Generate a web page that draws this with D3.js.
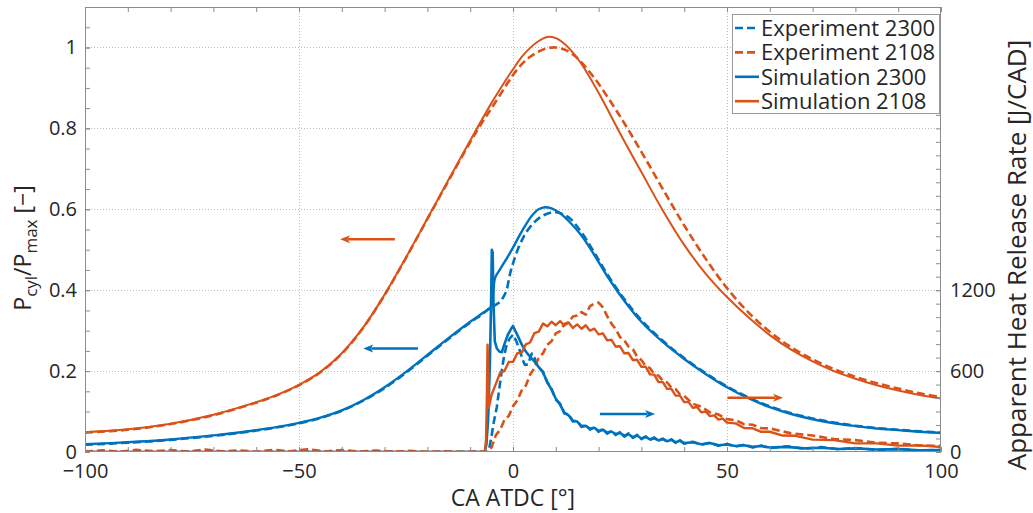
<!DOCTYPE html>
<html>
<head>
<meta charset="utf-8">
<script src="https://cdn.jsdelivr.net/npm/d3@7"></script>
<style>
  html, body { margin: 0; padding: 0; background: #fff; }
  svg { display: block; font-family: "Open Sans", sans-serif; }
</style>
</head>
<body>
<svg id="chart" width="1033" height="513"></svg>
<script>
// ---- Tick values ----------------------------------------------------------
const xMajorTicks = [-100, -50, 0, 50, 100];
const yLeftMajorTicks = [0, 0.2, 0.4, 0.6, 0.8, 1];
const yRightMajorTicks = [0, 600, 1200];

// ---- Normalised cylinder pressure, [crank angle ATDC, P/Pmax] -------------
const pressureExp2300 = [[-100,0.018],[-90,0.023],[-80,0.03],[-70,0.04],[-65,0.046],[-60,0.053],[-55,0.061],[-50,0.071],[-45,0.084],[-40,0.102],[-35,0.127],[-30,0.158],[-25,0.196],[-20,0.238],[-15,0.28],[-10,0.32],[-7,0.342],[-5.4,0.356],[-4,0.364],[-3,0.372],[-2,0.388],[-1.5,0.4],[-0.7,0.44],[0,0.466],[1.2,0.503],[2.3,0.528],[3.2,0.545],[5,0.568],[6.3,0.58],[8,0.589],[10,0.593],[13,0.58],[16,0.543],[19,0.493],[22,0.44],[26,0.378],[30,0.326],[35,0.275],[40,0.232],[45,0.195],[50,0.162],[55,0.135],[60,0.113],[65,0.096],[70,0.083],[75,0.073],[80,0.065],[85,0.059],[90,0.055],[95,0.051],[100,0.048]];
const pressureExp2108 = [[-100,0.048],[-90,0.055],[-80,0.069],[-70,0.091],[-60,0.122],[-55,0.141],[-50,0.165],[-45,0.197],[-40,0.243],[-35,0.307],[-30,0.388],[-25,0.48],[-20,0.576],[-15,0.672],[-10,0.766],[-7,0.818],[-5,0.85],[-2,0.9],[0,0.932],[2,0.958],[4,0.977],[6,0.99],[8,0.998],[10,1.0],[12,0.995],[14,0.983],[16,0.963],[18,0.938],[20,0.91],[25,0.83],[30,0.742],[35,0.65],[40,0.56],[45,0.478],[50,0.405],[55,0.345],[60,0.297],[65,0.259],[70,0.229],[75,0.205],[80,0.186],[85,0.17],[90,0.157],[95,0.145],[100,0.135]];
const pressureSim2300 = [[-100,0.019],[-90,0.024],[-80,0.031],[-70,0.041],[-65,0.047],[-60,0.054],[-55,0.062],[-50,0.072],[-45,0.085],[-40,0.103],[-35,0.128],[-30,0.16],[-25,0.198],[-20,0.24],[-15,0.282],[-10,0.322],[-7,0.344],[-5.2,0.358],[-4.6,0.395],[-4.2,0.43],[-3,0.452],[-1.5,0.478],[0,0.505],[1.5,0.535],[3,0.562],[4.5,0.585],[6,0.6],[7.5,0.605],[9,0.602],[11,0.59],[13,0.571],[16,0.535],[19,0.487],[22,0.435],[26,0.374],[30,0.322],[35,0.272],[40,0.23],[45,0.193],[50,0.16],[55,0.133],[60,0.111],[65,0.094],[70,0.081],[75,0.071],[80,0.064],[85,0.058],[90,0.054],[95,0.05],[100,0.047]];
const pressureSim2108 = [[-100,0.049],[-90,0.056],[-80,0.07],[-70,0.092],[-60,0.123],[-55,0.142],[-50,0.166],[-45,0.198],[-40,0.244],[-35,0.308],[-30,0.389],[-25,0.481],[-20,0.577],[-15,0.674],[-10,0.77],[-5,0.863],[-2,0.914],[0,0.946],[2,0.976],[4,0.999],[6,1.016],[8,1.026],[10,1.023],[12,1.009],[14,0.987],[16,0.959],[20,0.888],[25,0.788],[30,0.692],[35,0.597],[40,0.512],[45,0.441],[50,0.383],[55,0.333],[60,0.289],[65,0.253],[70,0.224],[75,0.2],[80,0.181],[85,0.165],[90,0.152],[95,0.141],[100,0.132]];

// ---- Apparent heat release rate, [crank angle ATDC, J/CAD] ----------------
const hrrExp2300 = [[-100,2],[-90,6],[-80,1],[-70,5],[-60,0],[-50,4],[-40,1],[-30,3],[-20,0],[-10,2],[-5.7,0],[-5,120],[-4.5,220],[-3.8,330],[-3.2,470],[-2.7,585],[-2.2,690],[-1.6,780],[-0.8,840],[0,870],[0.8,820],[1.6,750],[2.3,680],[2.8,645],[3.5,650],[4.4,730],[5,700],[5.5,660],[6,628],[7,596],[8,516],[9,470],[10,388],[11,358],[12,285],[13,278],[14,226],[15,232],[16,186],[17,200],[18,166],[19,186],[20,150],[21,172],[22,136],[23,158],[24,126],[25,148],[26,114],[27,138],[28,104],[29,128],[30,96],[31,116],[32,88],[33,108],[34,82],[35,100],[36,76],[37,94],[38,68],[39,88],[40,62],[42,76],[44,54],[46,70],[48,46],[50,60],[52,40],[54,54],[56,34],[58,48],[60,30],[64,42],[68,24],[72,36],[76,20],[80,30],[85,15],[90,24],[95,10],[100,16]];
const hrrExp2108 = [[-100,4],[-96,12],[-92,2],[-88,16],[-84,6],[-80,14],[-76,3],[-72,18],[-68,5],[-64,12],[-60,2],[-56,16],[-52,6],[-48,20],[-44,4],[-40,14],[-36,3],[-32,10],[-28,2],[-24,8],[-20,1],[-16,5],[-12,0],[-8,3],[-6,0],[-5,35],[-4,125],[-3,165],[-2,238],[-1,268],[0,340],[1,382],[2,455],[3,492],[4,575],[5,622],[6,700],[7,732],[8,795],[9,822],[10,880],[11,897],[12,950],[13,962],[14,1005],[15,1012],[16,1038],[17,1018],[18,1082],[19,1100],[20,1108],[21,1072],[22,1008],[23,952],[24,912],[25,852],[26,828],[27,782],[28,762],[29,708],[30,682],[31,638],[32,622],[33,578],[34,566],[35,528],[36,516],[37,478],[38,466],[39,428],[40,416],[42,358],[44,336],[46,294],[48,278],[50,244],[52,236],[54,206],[56,202],[58,176],[60,175],[65,138],[70,122],[75,96],[80,88],[85,68],[90,64],[95,48],[100,45]];
const hrrSim2300 = [[-100,0],[-6.6,0],[-6.2,60],[-5.8,250],[-5.4,650],[-5.1,1150],[-4.95,1500],[-4.75,1480],[-4.55,1100],[-4.25,820],[-3.8,770],[-3.2,745],[-2.6,740],[-2,800],[-1.2,870],[-0.5,910],[0,935],[0.5,900],[1,870],[2,800],[3,745],[4,705],[5,672],[6,630],[7,590],[8,520],[9,462],[10,395],[11,352],[12,292],[13,272],[14,232],[15,226],[16,192],[17,194],[18,172],[19,180],[20,156],[21,166],[22,142],[23,152],[24,132],[25,142],[26,120],[27,132],[28,110],[29,122],[30,100],[31,112],[32,94],[33,102],[34,86],[35,96],[36,80],[37,90],[38,72],[39,84],[40,66],[42,72],[44,58],[46,66],[48,50],[50,56],[52,44],[54,50],[56,38],[58,44],[60,33],[64,38],[68,27],[72,32],[76,22],[80,27],[85,18],[90,21],[95,13],[100,14]];
const hrrSim2108 = [[-100,0],[-6.6,0],[-6.3,90],[-6.1,420],[-5.95,795],[-5.8,640],[-5.65,330],[-5,425],[-4,505],[-3,588],[-2,600],[-1,668],[0,668],[1,733],[2,735],[3,798],[4,812],[5,882],[6,892],[7,952],[8,932],[9,966],[10,940],[11,970],[12,938],[13,960],[14,920],[15,946],[16,914],[17,940],[18,900],[19,915],[20,872],[21,880],[22,828],[23,832],[24,782],[25,784],[26,732],[27,734],[28,682],[29,684],[30,632],[31,632],[32,576],[33,574],[34,518],[35,518],[36,468],[37,468],[38,418],[39,418],[40,370],[41,372],[42,328],[43,334],[44,294],[45,300],[46,266],[47,272],[48,240],[49,248],[50,218],[52,212],[54,178],[56,176],[58,150],[60,150],[63,122],[66,120],[70,92],[75,88],[80,64],[85,64],[90,47],[95,49],[100,37]];

// ---- Layout and styling ---------------------------------------------------
const plot = { left: 85, right: 941, top: 7, bottom: 452 };
const BLUE = "#0072BD", ORANGE = "#D95319";
const AXIS_GREY = "#8c8c8c", TEXT = "#262626";
const TICK_FONT = 20, LABEL_FONT = 23, RIGHT_LABEL_FONT = 26, LEGEND_FONT = 22;

const svg = d3.select("#chart");

const x = d3.scaleLinear().domain([-100, 100]).range([plot.left, plot.right]);
const y = d3.scaleLinear().domain([0, 1.1]).range([plot.bottom, plot.top]);
const yR = d3.scaleLinear().domain([0, 3300]).range([plot.bottom, plot.top]);

// clip lines to the axes box
svg.append("defs").append("clipPath").attr("id", "plotClip")
  .append("rect")
  .attr("x", plot.left).attr("y", plot.top)
  .attr("width", plot.right - plot.left).attr("height", plot.bottom - plot.top);

// ---- Grid -----------------------------------------------------------------
const grid = svg.append("g").attr("stroke", "#bdbdbd").attr("stroke-width", 1)
  .attr("stroke-dasharray", "1,2");
grid.selectAll("line.gx").data(xMajorTicks.filter(d => d > -100 && d < 100))
  .join("line").attr("class", "gx")
  .attr("x1", d => x(d) + 0.5).attr("x2", d => x(d) + 0.5)
  .attr("y1", plot.top).attr("y2", plot.bottom);
grid.selectAll("line.gy").data(yLeftMajorTicks.filter(d => d > 0))
  .join("line").attr("class", "gy")
  .attr("x1", plot.left).attr("x2", plot.right)
  .attr("y1", d => Math.round(y(d)) + 0.5).attr("y2", d => Math.round(y(d)) + 0.5);

// ---- Curves ---------------------------------------------------------------
const curves = svg.append("g").attr("clip-path", "url(#plotClip)").attr("fill", "none")
  .attr("stroke-linejoin", "round");

const pLine = d3.line().x(d => x(d[0])).y(d => y(d[1])).curve(d3.curveCatmullRom.alpha(0.5));
const hLine = d3.line().x(d => x(d[0])).y(d => yR(d[1]));

const series = [
  { data: pressureExp2300, gen: pLine, color: BLUE,   dash: "8,4", width: 2.6 },
  { data: pressureExp2108, gen: pLine, color: ORANGE, dash: "8,4", width: 2.6 },
  { data: pressureSim2300, gen: pLine, color: BLUE,   dash: null,  width: 2.4 },
  { data: pressureSim2108, gen: pLine, color: ORANGE, dash: null,  width: 2.0 },
  { data: hrrExp2300,      gen: hLine, color: BLUE,   dash: "8,4", width: 2.6 },
  { data: hrrExp2108,      gen: hLine, color: ORANGE, dash: "8,4", width: 2.6 },
  { data: hrrSim2300,      gen: hLine, color: BLUE,   dash: null,  width: 2.6 },
  { data: hrrSim2108,      gen: hLine, color: ORANGE, dash: null,  width: 2.4 }
];
series.forEach(s => {
  curves.append("path")
    .attr("d", s.gen(s.data))
    .attr("stroke", s.color)
    .attr("stroke-width", s.width)
    .attr("stroke-dasharray", s.dash);
});

// ---- Axes -----------------------------------------------------------------
function styleAxis(g) {
  g.select(".domain").remove();
  g.selectAll(".tick line").attr("stroke", AXIS_GREY);
  g.selectAll(".tick text").attr("fill", TEXT).style("font-size", TICK_FONT + "px")
    .style("font-family", '"Open Sans", sans-serif');
}
const fmt = d3.format("~g");

// bottom
svg.append("g").attr("transform", `translate(0,${plot.bottom})`)
  .call(d3.axisBottom(x).tickValues(d3.range(-100, 101, 10)).tickSize(-5).tickFormat(() => ""))
  .call(styleAxis);
svg.append("g").attr("transform", `translate(0,${plot.bottom})`)
  .call(d3.axisBottom(x).tickValues(xMajorTicks).tickSize(-5).tickPadding(12).tickFormat(d3.format("d")))
  .call(styleAxis);
// top (mirror ticks, no labels)
svg.append("g").attr("transform", `translate(0,${plot.top})`)
  .call(d3.axisTop(x).tickValues(d3.range(-100, 101, 10)).tickSize(-5).tickFormat(() => ""))
  .call(styleAxis);
// left
svg.append("g").attr("transform", `translate(${plot.left},0)`)
  .call(d3.axisLeft(y).tickValues(d3.range(0, 1.1001, 0.05)).tickSize(-5).tickFormat(() => ""))
  .call(styleAxis);
svg.append("g").attr("transform", `translate(${plot.left},0)`)
  .call(d3.axisLeft(y).tickValues(yLeftMajorTicks).tickSize(-5).tickPadding(8).tickFormat(fmt))
  .call(styleAxis);
// right
svg.append("g").attr("transform", `translate(${plot.right},0)`)
  .call(d3.axisRight(yR).tickValues(d3.range(0, 3301, 100)).tickSize(-5).tickFormat(() => ""))
  .call(styleAxis);
svg.append("g").attr("transform", `translate(${plot.right},0)`)
  .call(d3.axisRight(yR).tickValues(yRightMajorTicks).tickSize(-5).tickPadding(9).tickFormat(d3.format("d")))
  .call(styleAxis);

// axes box
svg.append("rect")
  .attr("x", plot.left + 0.5).attr("y", plot.top + 0.5)
  .attr("width", plot.right - plot.left - 1).attr("height", plot.bottom - plot.top - 1)
  .attr("fill", "none").attr("stroke", AXIS_GREY).attr("stroke-width", 1);

// ---- Direction arrows (which axis each family belongs to) -----------------
const arrowNotes = [
  { from: [-27.6, 0.526], to: [-40.4, 0.526], scale: "left",  color: ORANGE },
  { from: [-22.2, 0.256], to: [-35.0, 0.256], scale: "left",  color: BLUE },
  { from: [20.3, 282],    to: [33.2, 282],    scale: "right", color: BLUE },
  { from: [50.1, 402],    to: [63.1, 402],    scale: "right", color: ORANGE }
];
const arrows = svg.append("g");
arrowNotes.forEach(a => {
  const ys = a.scale === "left" ? y : yR;
  const x1 = x(a.from[0]), x2 = x(a.to[0]), yy = ys(a.from[1]);
  const dir = Math.sign(x2 - x1);
  const headLen = 10, headHalf = 4;
  arrows.append("line")
    .attr("x1", x1).attr("x2", x2 - dir * headLen * 0.8)
    .attr("y1", yy).attr("y2", yy)
    .attr("stroke", a.color).attr("stroke-width", 2.6);
  arrows.append("path")
    .attr("d", `M${x2},${yy} L${x2 - dir * headLen},${yy - headHalf} L${x2 - dir * headLen * 0.75},${yy} L${x2 - dir * headLen},${yy + headHalf} Z`)
    .attr("fill", a.color);
});

// ---- Axis labels ----------------------------------------------------------
svg.append("text")
  .attr("x", (plot.left + plot.right) / 2).attr("y", 506)
  .attr("text-anchor", "middle").attr("fill", TEXT)
  .style("font-size", LABEL_FONT + "px")
  .text("CA ATDC [°]");

const yl = svg.append("text")
  .attr("transform", "translate(31,248) rotate(-90)")
  .attr("text-anchor", "middle").attr("fill", TEXT)
  .style("font-size", LABEL_FONT + "px");
yl.append("tspan").text("P");
yl.append("tspan").attr("dy", 6).style("font-size", "17px").text("cyl");
yl.append("tspan").attr("dy", -6).text("/P");
yl.append("tspan").attr("dy", 6).style("font-size", "17px").text("max");
yl.append("tspan").attr("dy", -6).text(" [\u2212]");

svg.append("text")
  .attr("transform", "translate(1026,255) rotate(-90)")
  .attr("text-anchor", "middle").attr("fill", TEXT)
  .style("font-size", RIGHT_LABEL_FONT + "px")
  .text("Apparent Heat Release Rate [J/CAD]");

// ---- Legend ---------------------------------------------------------------
const legendItems = [
  { label: "Experiment 2300", color: BLUE,   dash: "8,4" },
  { label: "Experiment 2108", color: ORANGE, dash: "8,4" },
  { label: "Simulation 2300", color: BLUE,   dash: null },
  { label: "Simulation 2108", color: ORANGE, dash: null }
];
const legend = svg.append("g").attr("transform", "translate(732,14)");
legend.append("rect")
  .attr("x", 0.5).attr("y", 0.5).attr("width", 207).attr("height", 99)
  .attr("fill", "#fff").attr("stroke", "#9a9a9a").attr("stroke-width", 1);
legendItems.forEach((it, i) => {
  const yy = 14 + i * 24.4;
  legend.append("line")
    .attr("x1", 3).attr("x2", 27).attr("y1", yy).attr("y2", yy)
    .attr("stroke", it.color).attr("stroke-width", 2.6)
    .attr("stroke-dasharray", it.dash);
  legend.append("text")
    .attr("x", 29).attr("y", yy).attr("dy", "0.35em")
    .attr("fill", TEXT).style("font-size", LEGEND_FONT + "px")
    .text(it.label);
});
</script>
</body>
</html>
